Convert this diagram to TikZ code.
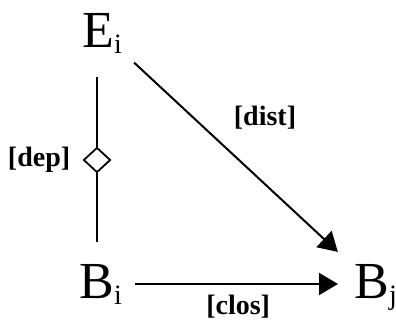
\documentclass[tikz,border=0pt]{standalone}
\usepackage{fontspec}
\setmainfont{Liberation Serif}
\usetikzlibrary{arrows.meta,shapes.geometric,positioning}

\newcommand{\sub}[1]{\raisebox{-3pt}{\fontsize{14}{16}\selectfont #1}}

\begin{document}
\begin{tikzpicture}[x=0.5pt, y=-0.5pt,
    var/.style={inner sep=0pt, font=\fontsize{26}{30}\selectfont},
    lab/.style={inner sep=1pt, font=\fontsize{14}{16}\selectfont\bfseries},
    link/.style={line width=1pt},
    arr/.style={link, -{Triangle[length=9.5pt,width=11pt]}},
    depmark/.style={draw, shape=diamond, line width=0.9pt, inner sep=0pt,
      minimum width=13.5pt, minimum height=12.5pt}]
  \useasboundingbox (0,0) rectangle (396,322);
  \node[var, anchor=base west] (Ei) at (82,47) {E\sub{i}};
  \node[var, anchor=base west] (Bi) at (79,298) {B\sub{i}};
  \node[var, anchor=base west] (Bj) at (354,298) {B\sub{j}};
  \node[depmark] (dep) at (97,160) {};
  \node[lab, left=5pt of dep] (deplab) {[dep]};
  % dependency line through the diamond
  \draw[link, shorten <=12pt] (Ei.south -| dep) -- (dep.north);
  \draw[link, shorten >=11pt] (dep.south) -- (dep |- Bi.north);
  % arrows
  \draw[arr, shorten <=8pt, shorten >=11pt] (Ei) -- (Bj);
  \node[lab] (distlab) at (265,118) {[dist]};
  \draw[arr, shorten <=6.5pt, shorten >=8pt] (Bi.east) -- (Bi.east -| Bj.west)
    node[lab, midway, below=4pt] (closlab) {[clos]};
\end{tikzpicture}
\end{document}
